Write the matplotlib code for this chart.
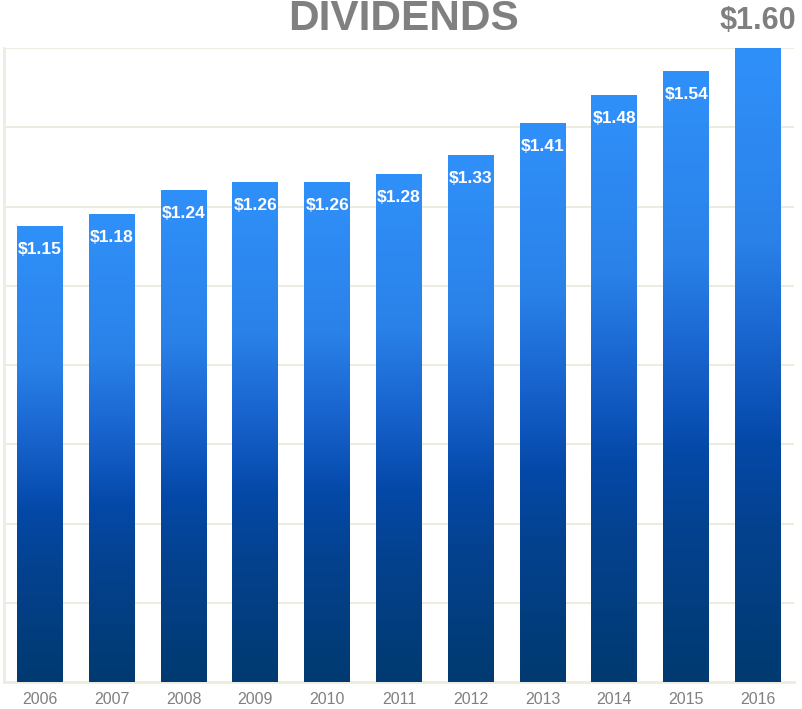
import numpy as np
import matplotlib
matplotlib.use('Agg')
import matplotlib.pyplot as plt
from matplotlib.colors import LinearSegmentedColormap

years = ['2006', '2007', '2008', '2009', '2010', '2011',
         '2012', '2013', '2014', '2015', '2016']
dividends = [1.15, 1.18, 1.24, 1.26, 1.26, 1.28, 1.33, 1.41, 1.48, 1.54, 1.60]

plt.rcParams['font.family'] = ['Liberation Sans', 'DejaVu Sans']

# dark navy at the foot of each bar, bright blue at the top
blues = LinearSegmentedColormap.from_list(
    'blues', [(0.0, '#003a70'), (0.25, '#044290'), (0.38, '#0549a8'),
              (0.45, '#0d55bb'), (0.55, '#1a66d0'), (0.7, '#2a82e8'),
              (1.0, '#3090fa')])

fig = plt.figure(figsize=(8.02, 7.09), dpi=100)
ax = fig.add_axes([0.005, 0.038, 0.985, 0.894])

x = np.arange(len(years))
width = 0.64
grad = np.linspace(0, 1, 256).reshape(-1, 1)

bars = ax.bar(x, dividends, width=width, color='none', edgecolor='none', zorder=3)
for xi, val, b in zip(x, dividends, bars):
    ax.imshow(grad, cmap=blues, origin='lower', aspect='auto', zorder=3,
              extent=(xi - width / 2, xi + width / 2, 0, val),
              interpolation='bilinear')
    if xi == len(years) - 1:
        ax.text(xi, val + 0.03, f'${val:.2f}', ha='center', va='bottom',
                color='#7f7f7f', fontsize=22, fontweight='bold', zorder=5)
    else:
        ax.text(xi, val - 0.058, f'${val:.2f}', ha='center', va='center',
                color='white', fontsize=12.5, fontweight='bold', zorder=5)

ax.set_xlim(-0.5, len(years) - 0.5)
ax.set_ylim(0, 1.6)
ax.set_yticks(np.arange(0, 1.61, 0.2))
ax.yaxis.grid(True, color='#eeebe1', linewidth=1.5, zorder=0)
ax.set_axisbelow(True)
ax.tick_params(axis='y', left=False, labelleft=False)
ax.tick_params(axis='x', bottom=False, labelsize=11.5, labelcolor='#808080', pad=4)
ax.set_xticks(x)
ax.set_xticklabels(years)

for side in ['top', 'right']:
    ax.spines[side].set_visible(False)
for side in ['left', 'bottom']:
    ax.spines[side].set_color('#eeebe1')
    ax.spines[side].set_linewidth(2)

fig.text(0.503, 0.958, 'DIVIDENDS', ha='center', va='baseline',
         color='#808080', fontsize=30.5, fontweight='bold')

fig.savefig('out.png', dpi=100, facecolor='white')
